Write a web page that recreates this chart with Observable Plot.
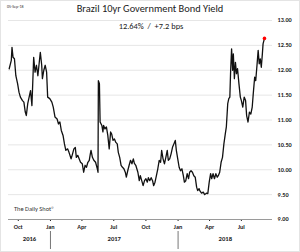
<!DOCTYPE html>
<html>
<head>
<meta charset="utf-8">
<script src="https://cdn.jsdelivr.net/npm/d3@7"></script>
<script src="https://cdn.jsdelivr.net/npm/@observablehq/plot@0.6"></script>
<style>
  html, body { margin: 0; padding: 0; background: #fff; }
  #wrap { position: relative; width: 300px; height: 252px; overflow: hidden; font-family: Carlito, Lato, "Liberation Sans", sans-serif; }
  #wrap svg { position: absolute; left: 0; top: 0; }
  #wrap svg g[aria-label*="axis"] text { font-weight: bold; fill: #222; }
  .t { position: absolute; white-space: pre; line-height: 1; }
  #title { left: 0; width: 300px; top: 4px; text-align: center; font-size: 10.4px; color: #1a1a1a; }
  #sub { left: 151px; transform: translateX(-50%); top: 22px; font-size: 8.4px; color: #1a1a1a; background: #fff; padding: 0 5px; }
  #date { left: 7px; top: 5px; font-size: 4px; color: #333; }
  #src { left: 14px; top: 206px; font-size: 6.4px; color: #333; }
  #border { position: absolute; left: 0; top: 0; width: 298px; height: 250px; border: 1px solid #e4e4e4; pointer-events: none; }
</style>
</head>
<body>
<div id="wrap"></div>
<script>
const dates = [
  "2016-09-05","2016-09-11","2016-09-13","2016-09-16","2016-09-20","2016-09-24","2016-09-29",
  "2016-10-03","2016-10-07","2016-10-13","2016-10-17","2016-10-21","2016-10-24","2016-10-28",
  "2016-11-01","2016-11-05","2016-11-09","2016-11-13","2016-11-14","2016-11-18","2016-11-22","2016-11-26","2016-11-30",
  "2016-12-03","2016-12-07","2016-12-09","2016-12-13","2016-12-17","2016-12-21","2016-12-24","2016-12-30",
  "2017-01-05","2017-01-09","2017-01-14","2017-01-20","2017-01-24","2017-01-28",
  "2017-02-01","2017-02-06","2017-02-10","2017-02-14","2017-02-19","2017-02-23",
  "2017-03-01","2017-03-04","2017-03-09","2017-03-13","2017-03-16","2017-03-20","2017-03-24","2017-03-28",
  "2017-04-02","2017-04-06","2017-04-10","2017-04-14","2017-04-18","2017-04-22","2017-04-25","2017-04-27",
  "2017-05-01","2017-05-05","2017-05-10","2017-05-15","2017-05-17","2017-05-18","2017-05-21","2017-05-23","2017-05-28","2017-05-31",
  "2017-06-02","2017-06-06","2017-06-10","2017-06-14","2017-06-18","2017-06-22","2017-06-25","2017-06-29",
  "2017-07-03","2017-07-07","2017-07-11","2017-07-14","2017-07-18","2017-07-22","2017-07-26","2017-07-30",
  "2017-08-03","2017-08-06","2017-08-10","2017-08-14","2017-08-18","2017-08-22","2017-08-26","2017-08-29",
  "2017-09-02","2017-09-08","2017-09-12","2017-09-15","2017-09-19","2017-09-23","2017-09-27",
  "2017-10-01","2017-10-05","2017-10-08","2017-10-12","2017-10-16","2017-10-20","2017-10-23","2017-10-27","2017-10-31",
  "2017-11-04","2017-11-08","2017-11-12","2017-11-15","2017-11-19","2017-11-23","2017-11-27",
  "2017-12-01","2017-12-04","2017-12-08","2017-12-12","2017-12-16","2017-12-20","2017-12-24","2017-12-27","2017-12-31",
  "2018-01-04","2018-01-08","2018-01-12","2018-01-16","2018-01-19","2018-01-23","2018-01-27","2018-01-31",
  "2018-02-03","2018-02-07","2018-02-11","2018-02-15","2018-02-19","2018-02-23","2018-02-26",
  "2018-03-02","2018-03-04","2018-03-09","2018-03-14","2018-03-18","2018-03-23","2018-03-27","2018-03-31",
  "2018-04-04","2018-04-07","2018-04-11","2018-04-15","2018-04-19","2018-04-23","2018-04-26","2018-04-30",
  "2018-05-04","2018-05-08","2018-05-12","2018-05-16","2018-05-19","2018-05-23","2018-05-26","2018-05-29","2018-05-31",
  "2018-06-03","2018-06-06","2018-06-08","2018-06-11","2018-06-14","2018-06-17","2018-06-20","2018-06-24","2018-06-28",
  "2018-07-01","2018-07-05","2018-07-09","2018-07-13","2018-07-16","2018-07-20","2018-07-24","2018-07-28",
  "2018-08-01","2018-08-04","2018-08-08","2018-08-11","2018-08-15","2018-08-18","2018-08-21","2018-08-24","2018-08-27","2018-08-30",
  "2018-09-01","2018-09-05"
];
const yields = [
  12.03,12.20,12.46,12.26,12.23,11.89,11.73,
  11.56,11.46,11.39,11.36,11.16,11.09,11.33,
  11.46,11.59,11.29,12.06,12.26,11.96,12.10,11.89,12.16,
  12.36,12.10,11.83,12.00,12.10,11.96,11.46,11.43,
  11.36,11.26,11.06,11.02,10.92,10.96,
  10.79,10.69,10.52,10.39,10.42,10.35,
  10.22,10.29,10.42,10.45,10.25,10.29,10.22,10.15,
  10.12,9.95,10.09,10.05,10.15,10.19,10.32,10.39,
  10.25,10.19,10.15,10.02,9.95,11.79,11.73,10.96,10.89,10.76,
  10.89,10.82,10.86,10.69,10.42,10.76,10.72,10.59,
  10.62,10.55,10.52,10.35,10.25,10.09,10.05,10.02,
  9.95,9.85,9.98,10.09,10.19,10.12,10.22,10.13,
  10.09,9.95,9.78,9.88,9.78,9.68,9.78,
  9.82,9.75,9.84,9.78,9.84,9.78,9.68,9.75,9.88,
  10.02,10.19,10.15,10.39,10.22,10.12,10.25,
  10.39,10.19,10.22,10.32,10.45,10.52,10.59,10.39,10.22,
  10.05,9.98,10.02,9.88,9.75,9.78,9.92,9.82,
  9.95,9.98,9.95,9.88,9.85,9.65,9.58,
  9.62,9.58,9.53,9.55,9.50,9.53,9.52,9.75,
  9.92,9.82,9.92,9.82,9.92,9.85,9.88,9.95,
  10.15,10.25,10.52,10.72,10.86,11.33,11.43,11.46,11.93,
  12.43,12.00,12.33,11.83,12.16,11.93,12.03,11.73,11.46,
  11.39,11.26,11.46,11.39,11.09,10.96,11.16,11.12,
  11.26,11.53,11.86,11.79,12.13,12.40,12.13,12.23,12.06,12.33,
  12.53,12.64
];
const yTicks = [9, 9.5, 10, 10.5, 11, 11.5, 12, 12.5, 13];
const years = ["2016", "2017", "2018"];
const titleText = "Brazil 10yr Government Bond Yield";
const subtitleText = "12.64%  /  +7.2 bps";
const dateStamp = "05-Sep-18";
const sourceText = "The Daily Shot\u00AE";

const data = dates.map((d, i) => ({date: new Date(d), value: yields[i]}));
const xDomain = [new Date("2016-09-03"), new Date("2018-09-28")];
const quarterTicks = d3.utcMonth.every(3).range(xDomain[0], xDomain[1]);
const yearStarts = years.slice(1).map(y => new Date(`${y}-01-01`));
const yearLabels = years.map(y => {
  const a = Math.max(+xDomain[0], +new Date(`${y}-01-01`));
  const b = Math.min(+xDomain[1], +new Date(`${+y + 1}-01-01`));
  return {date: new Date((a + b) / 2), label: y};
});
const last = data[data.length - 1];

const chart = Plot.plot({
  width: 300,
  height: 252,
  marginTop: 20,
  marginBottom: 33,
  marginLeft: 8,
  marginRight: 28,
  style: {fontFamily: "Carlito, Lato, 'Liberation Sans', sans-serif", fontSize: "6.2px", background: "transparent", color: "#222"},
  x: {type: "utc", domain: xDomain, ticks: quarterTicks, tickFormat: d3.utcFormat("%b"), tickSize: 2, tickPadding: 3, label: null},
  y: {domain: [9, 13], ticks: yTicks, tickFormat: d3.format(".2f"), axis: "right", tickSize: 0, tickPadding: 5, label: null},
  marks: [
    Plot.ruleY(yTicks.filter(v => v > 9), {stroke: "#e6e6e6", strokeWidth: 1}),
    Plot.ruleY([9], {stroke: "#9a9a9a", strokeWidth: 1}),
    Plot.ruleX(yearStarts, {x: d => d, y1: 9, y2: 9, insetTop: 12, insetBottom: -30, stroke: "#777", strokeWidth: 1}),
    Plot.text(yearLabels, {x: "date", y: () => 9, text: "label", dy: 19, fontWeight: "bold", fontSize: 6.6, fill: "#222"}),
    Plot.line(data, {x: "date", y: "value", stroke: "#111", strokeWidth: 1.3}),
    Plot.dot([last], {x: "date", y: "value", fill: "#ff0000", r: 1.8})
  ]
});

const wrap = document.getElementById("wrap");
wrap.appendChild(chart);
function addText(id, txt) {
  const el = document.createElement("div");
  el.id = id; el.className = "t"; el.textContent = txt;
  wrap.appendChild(el);
}
addText("title", titleText);
addText("sub", subtitleText);
addText("date", dateStamp);
addText("src", sourceText);
const b = document.createElement("div"); b.id = "border"; wrap.appendChild(b);
</script>
</body>
</html>
